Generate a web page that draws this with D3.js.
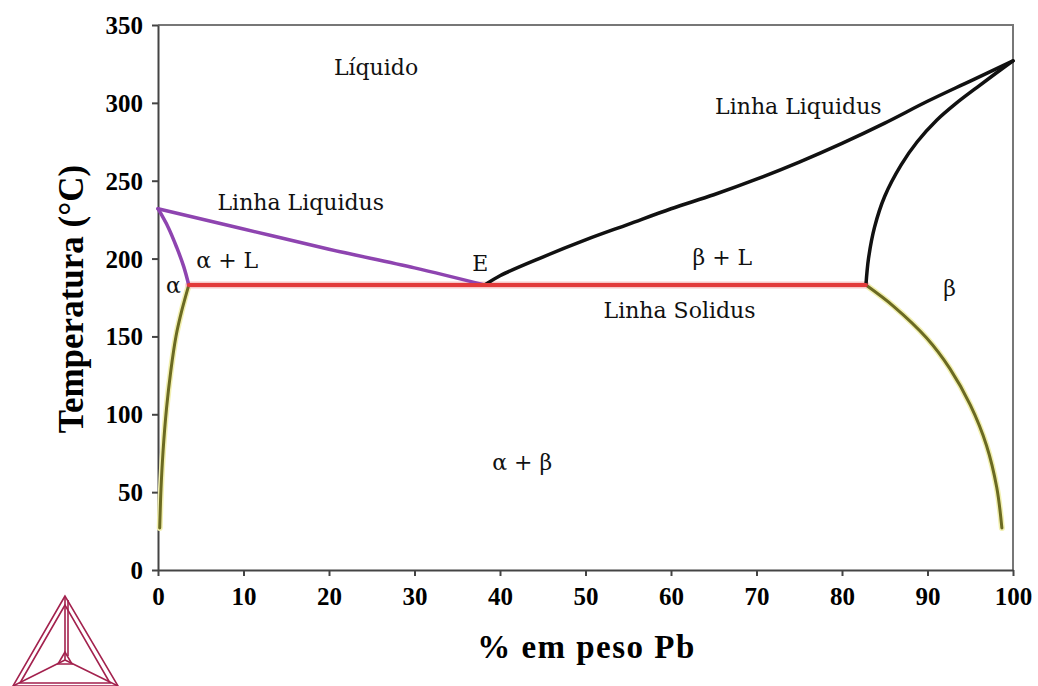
<!DOCTYPE html>
<html>
<head>
<meta charset="utf-8">
<script src="https://cdn.jsdelivr.net/npm/d3@7"></script>
<style>
  body { margin: 0; background: #fff; }
  svg { display: block; }
</style>
</head>
<body>
<svg id="chart" width="1038" height="686"></svg>
<script>
// Phase boundaries (x = % Pb, y = temperature °C)
var liquidusLeft = [[0, 232], [10, 219], [20, 206], [30, 194], [38.2, 183]];
var solidusAlpha = [[0, 232], [1.2, 220], [2.2, 207], [3.0, 195], [3.6, 183]];
var solvusAlpha = [[3.6, 183], [2.8, 167], [2.1, 150], [1.5, 128], [1.0, 104], [0.6, 77], [0.35, 52], [0.2, 27]];
var liquidusRight = [[38.2, 183], [40, 189], [45, 201], [50, 212], [55, 222], [60, 232], [65, 241],
    [70, 251], [75, 262], [80, 274], [85, 287], [90, 301], [95, 314], [100, 327]];
var solidusBeta = [[82.8, 183], [83.1, 200], [83.8, 220], [85.0, 240], [86.9, 260], [88.8, 275],
    [91.1, 289], [93.3, 299.5], [95.8, 310], [98.0, 319], [100, 327]];
var solvusBeta = [[82.8, 183], [86.0, 169.5], [89.9, 149], [92.6, 129.5], [95.0, 106], [96.9, 80],
    [98.1, 53], [98.7, 27]];
var eutectic = [[3.6, 183], [82.8, 183]];

var xTicks = [0, 10, 20, 30, 40, 50, 60, 70, 80, 90, 100];
var yTicks = [0, 50, 100, 150, 200, 250, 300, 350];

// region labels: [text, x (% Pb), y (°C)]
var labels = [
    ["Líquido", 25.5, 318],
    ["Linha Liquidus", 16.7, 231],
    ["Linha Liquidus", 74.9, 293],
    ["α + L", 8.1, 194],
    ["α", 1.8, 178],
    ["E", 37.7, 192],
    ["β + L", 66, 196],
    ["β", 92.6, 176],
    ["Linha Solidus", 61, 162],
    ["α + β", 42.6, 64]
];

var svg = d3.select("#chart"),
    margin = {top: 25, right: 25, bottom: 116, left: 158},
    width = 1038 - margin.left - margin.right,
    height = 686 - margin.top - margin.bottom;

var x = d3.scaleLinear().domain([0, 100]).range([0, width]),
    y = d3.scaleLinear().domain([0, 350]).range([height, 0]);

var g = svg.append("g")
    .attr("transform", "translate(" + margin.left + "," + margin.top + ")");

// frame (top / right)
g.append("path")
    .attr("d", "M0,0H" + width + "V" + height)
    .attr("fill", "none")
    .attr("stroke", "#777")
    .attr("stroke-width", 2);

// X axis
var xAxis = g.append("g")
    .attr("class", "axis axis--x")
    .attr("transform", "translate(0," + height + ")")
    .call(d3.axisBottom(x).tickValues(xTicks).tickSize(6).tickSizeOuter(0));

// Y axis
var yAxis = g.append("g")
    .attr("class", "axis axis--y")
    .call(d3.axisLeft(y).tickValues(yTicks).tickSize(6).tickSizeOuter(0));

g.selectAll(".axis path, .axis line")
    .attr("stroke", "#444")
    .attr("stroke-width", 2);

g.selectAll(".axis text")
    .attr("fill", "black")
    .attr("font-family", "Liberation Serif, Times New Roman, serif")
    .attr("font-weight", "bold")
    .attr("font-size", "25px");

xAxis.selectAll("text").attr("dy", "1.05em");
yAxis.selectAll("text").attr("x", -15).attr("dy", "0.34em");

// axis titles
svg.append("text")
    .attr("x", margin.left + width / 2 + 1)
    .attr("y", 658)
    .attr("text-anchor", "middle")
    .attr("font-family", "Liberation Serif, Times New Roman, serif")
    .attr("font-weight", "bold")
    .attr("font-size", "33px")
    .attr("letter-spacing", "1.5px")
    .text("% em peso Pb");

svg.append("text")
    .attr("transform", "translate(83," + (margin.top + y(174)) + ") rotate(-90)")
    .attr("text-anchor", "middle")
    .attr("font-family", "Liberation Serif, Times New Roman, serif")
    .attr("font-weight", "bold")
    .attr("font-size", "35px")
    .text("Temperatura (°C)");

// phase lines
var line = d3.line()
    .x(function (d) { return x(d[0]); })
    .y(function (d) { return y(d[1]); })
    .curve(d3.curveCatmullRom);

function drawLine(data, color, w) {
    g.append("path")
        .datum(data)
        .attr("fill", "none")
        .attr("stroke", color)
        .attr("stroke-width", w)
        .attr("stroke-linecap", "round")
        .attr("d", line);
}

// faint halos under olive solvus lines and red solidus
drawLine(solvusAlpha, "#f2f0b0", 6);
drawLine(solvusBeta, "#f2f0b0", 6);
drawLine(eutectic, "#f7c8c8", 7);
drawLine(solvusAlpha, "#6b6a22", 3);
drawLine(solvusBeta, "#6b6a22", 3);
drawLine(liquidusLeft, "#8e44b0", 3.5);
drawLine(solidusAlpha, "#8e44b0", 3.5);
drawLine(liquidusRight, "#111", 3.5);
drawLine(solidusBeta, "#111", 3.5);
drawLine(eutectic, "#e23a3a", 4);

// region labels
g.selectAll(".region-label")
    .data(labels)
    .enter()
    .append("text")
    .attr("class", "region-label")
    .attr("x", function (d) { return x(d[1]); })
    .attr("y", function (d) { return y(d[2]); })
    .attr("text-anchor", "middle")
    .attr("font-family", "DejaVu Serif, serif")
    .attr("font-size", "22px")
    .attr("fill", "#111")
    .text(function (d) { return d[0]; });

// logo (triangle) bottom-left
var logo = svg.append("g")
    .attr("fill", "none")
    .attr("stroke", "#a3224e")
    .attr("stroke-width", 1.6);
var apex = [65, 596], bl = [13, 686], br = [118, 686], c = [65, 660];
logo.append("path").attr("d", "M" + apex + "L" + bl + "L" + br + "Z");
logo.append("path").attr("d", "M65,605L20,683L110,683Z");
logo.append("path").attr("d", "M" + apex + "L" + c + "M" + bl + "L" + c + "M" + br + "L" + c);
logo.append("path").attr("d", "M65,652L58,664L72,664Z");
logo.append("path").attr("d", "M68,600V656");
</script>
</body>
</html>
